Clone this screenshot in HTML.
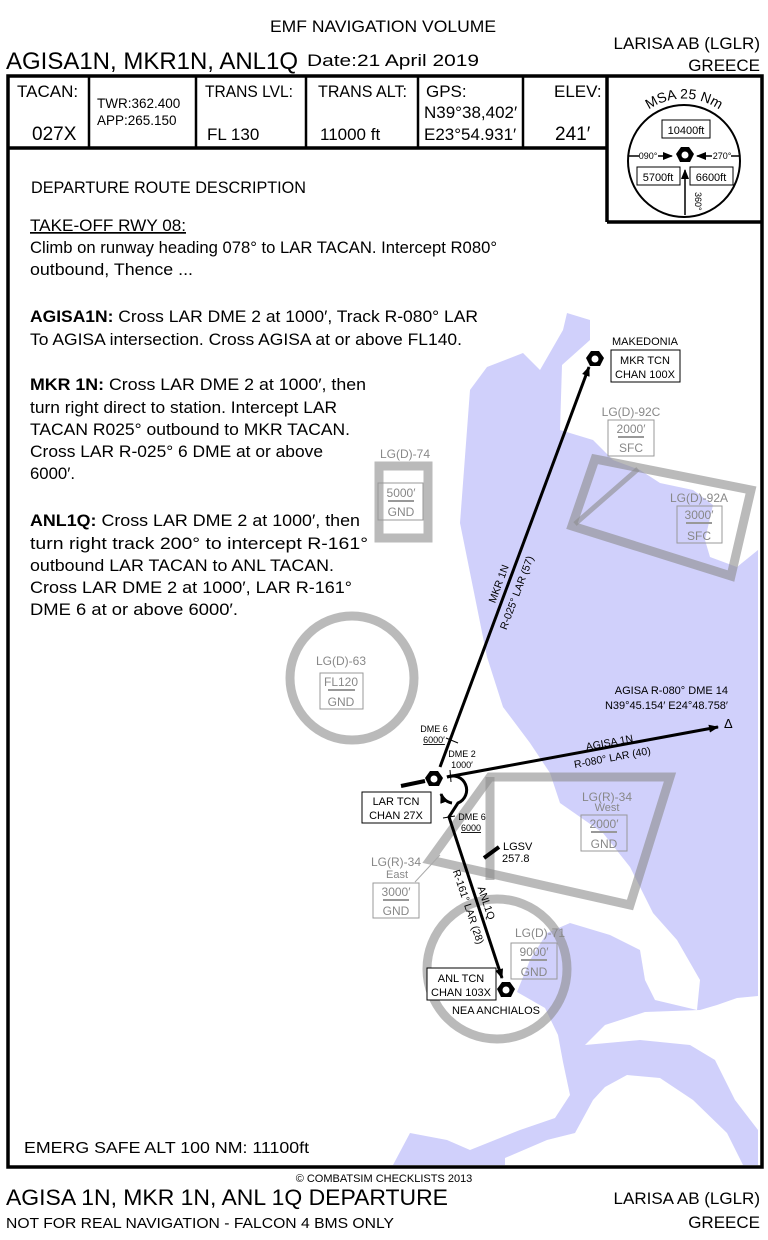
<!DOCTYPE html>
<html><head><meta charset="utf-8"><style>
html,body{margin:0;padding:0;background:#fff}
svg{display:block}
text{font-family:"Liberation Sans",sans-serif}
</style></head><body>
<svg width="768" height="1240" viewBox="0 0 768 1240" xmlns="http://www.w3.org/2000/svg">
<defs>
<marker id="ar" markerWidth="10" markerHeight="8" refX="9" refY="4" orient="auto" markerUnits="userSpaceOnUse"><path d="M0,0 L10,4 L0,8 z" fill="#000"/></marker>
<g id="tcn"><path d="M-4,-8 L4,-8 L9,-1 L5,7 L-5,7 L-9,-1 z" fill="#000"/><circle r="3.5" fill="#fff"/></g>
</defs>

<!-- water -->
<path fill="#d0d0fb" d="M567,313 L590,320 L590,340 L562,365 L560,430 L593,440 L613,460 L640,470 L660,483 L693,490 L713,505 L705,540 L710,557 L737,567 L758,550 L758,1165 L393,1165 L410,1133 L447,1140 L470,1150 L520,1130 L555,1118 L570,1095 L563,1062 L558,1035 L545,1008 L517,992 L530,960 L547,933 L570,923 L560,803 L550,773 L530,743 L503,707 L487,657 L460,523 L470,390 L487,367 L523,353 L540,370 L563,330 z"/>
<path fill="#fff" d="M560,803 L603,833 L630,867 L653,913 L677,940 L700,980 L697,1010 L655,1000 L645,980 L640,950 L610,935 L570,923 L560,860 z"/>
<path fill="#fff" d="M585,1045 L605,1025 L645,1012 L700,1010 L717,1005 L737,998 L758,996 L758,1130 L735,1100 L715,1060 L690,1045 L640,1040 z"/>
<path fill="#fff" d="M505,1165 L505,1158 L547,1140 L575,1133 L593,1100 L605,1087 L627,1075 L660,1078 L693,1100 L727,1133 L743,1165 z"/>

<!-- airspaces -->
<g fill="none" stroke="rgba(140,140,140,0.6)" stroke-width="9">
<rect x="379" y="466" width="49" height="72"/>
<polygon points="595,459 751,490 731,576 572,526"/>
<line x1="575" y1="524" x2="638" y2="469" stroke-width="5"/>
<circle cx="352" cy="678" r="62"/>
<polygon points="430,860 490,777 670,777 630,905"/>
<line x1="490" y1="777" x2="490" y2="880"/>
<circle cx="497" cy="969" r="70"/>
</g>
<line x1="415" y1="882" x2="440" y2="855" stroke="#aaa" stroke-width="1"/>

<g font-size="12" fill="#888" text-anchor="middle">
<text x="405" y="458">LG(D)-74</text>
<rect x="378" y="483" width="45" height="37" fill="none" stroke="#999"/>
<text x="401" y="497">5000′</text><line x1="388" y1="501" x2="414" y2="501" stroke="#999" stroke-width="2"/><text x="401" y="516">GND</text>
<text x="631" y="416">LG(D)-92C</text>
<rect x="608" y="420" width="46" height="36" fill="none" stroke="#999"/>
<text x="631" y="433">2000′</text><line x1="618" y1="437" x2="644" y2="437" stroke="#999" stroke-width="2"/><text x="631" y="452">SFC</text>
<text x="699" y="502">LG(D)-92A</text>
<rect x="677" y="506" width="45" height="37" fill="none" stroke="#999"/>
<text x="699" y="519">3000′</text><line x1="686" y1="523" x2="712" y2="523" stroke="#999" stroke-width="2"/><text x="699" y="540">SFC</text>
<text x="341" y="665">LG(D)-63</text>
<rect x="320" y="673" width="43" height="36" fill="none" stroke="#999"/>
<text x="341" y="686">FL120</text><line x1="328" y1="690" x2="355" y2="690" stroke="#999" stroke-width="2"/><text x="341" y="706">GND</text>
<text x="607" y="801">LG(R)-34</text><text x="607" y="811" font-size="11">West</text>
<rect x="581" y="815" width="46" height="36" fill="none" stroke="#999"/>
<text x="604" y="828">2000′</text><line x1="591" y1="832" x2="617" y2="832" stroke="#999" stroke-width="2"/><text x="604" y="848">GND</text>
<text x="396" y="866">LG(R)-34</text><text x="397" y="878" font-size="11">East</text>
<rect x="373" y="883" width="46" height="35" fill="none" stroke="#999"/>
<text x="396" y="896">3000′</text><line x1="383" y1="900" x2="409" y2="900" stroke="#999" stroke-width="2"/><text x="396" y="915">GND</text>
<text x="540" y="937">LG(D)-71</text>
<rect x="511" y="943" width="46" height="36" fill="none" stroke="#999"/>
<text x="534" y="956">9000′</text><line x1="521" y1="960" x2="547" y2="960" stroke="#999" stroke-width="2"/><text x="534" y="976">GND</text>
</g>

<!-- routes -->
<g stroke="#000" stroke-width="3" fill="none">
<line x1="440" y1="767" x2="589" y2="367" marker-end="url(#ar)"/>
<line x1="447" y1="777" x2="718" y2="727" marker-end="url(#ar)"/>
<path d="M447,777 A14,14 0 1 1 458,803 L449,817 L502,978" marker-end="url(#ar)"/>
<path d="M452,803 A14,14 0 0 1 441,794" marker-end="url(#ar)"/>
<line x1="401" y1="786" x2="425" y2="781" stroke-width="4"/>
<line x1="484" y1="858" x2="499" y2="847" stroke-width="4"/>
</g>
<g stroke="#000" stroke-width="1"><line x1="446" y1="738" x2="458" y2="743"/><line x1="450" y1="770" x2="451" y2="782"/><line x1="443" y1="818" x2="455" y2="816"/></g>
<use href="#tcn" x="595" y="359"/>
<use href="#tcn" x="434" y="779"/>
<use href="#tcn" x="506" y="990"/>

<g font-size="11" fill="#000">
<text x="645" y="345" text-anchor="middle">MAKEDONIA</text>
<rect x="611" y="350" width="69" height="32" fill="#fff" stroke="#000"/>
<text x="645" y="364" text-anchor="middle">MKR TCN</text><text x="645" y="378" text-anchor="middle">CHAN 100X</text>
<rect x="362" y="792" width="69" height="31" fill="#fff" stroke="#000"/>
<text x="396" y="805" text-anchor="middle">LAR TCN</text><text x="396" y="819" text-anchor="middle">CHAN 27X</text>
<rect x="427" y="968" width="69" height="32" fill="#fff" stroke="#000"/>
<text x="461" y="982" text-anchor="middle">ANL TCN</text><text x="461" y="996" text-anchor="middle">CHAN 103X</text>
<text x="496" y="1014" text-anchor="middle">NEA ANCHIALOS</text>
<text x="503" y="850">LGSV</text><text x="502" y="862">257.8</text>
<text x="728" y="694" text-anchor="end">AGISA R-080° DME 14</text>
<text x="728" y="709" text-anchor="end">N39°45.154′ E24°48.758′</text>
<text x="724" y="728" font-size="13" font-family="Liberation Serif">Δ</text>
</g>
<g font-size="9" fill="#000" text-anchor="middle">
<text x="434" y="732">DME 6</text><text x="434" y="743" text-decoration="underline">6000′</text>
<text x="462" y="757">DME 2</text><text x="462" y="768">1000′</text>
<text x="472" y="820">DME 6</text><text x="471" y="831" text-decoration="underline">6000</text>
<text font-size="10.5" transform="translate(502,585) rotate(-69.4)">MKR 1N</text>
<text font-size="10.5" transform="translate(520,594) rotate(-69.4)">R-025° LAR (57)</text>
<text font-size="10.5" transform="translate(610,746) rotate(-10.5)">AGISA 1N</text>
<text font-size="10.5" transform="translate(613,761) rotate(-10.5)">R-080° LAR (40)</text>
<text font-size="10.5" transform="translate(483,904) rotate(71.4)">ANL1Q</text>
<text font-size="10.5" transform="translate(465,908) rotate(71.4)">R-161° LAR (28)</text>
</g>

<!-- frame -->
<g stroke="#000" stroke-width="3.5" fill="none">
<rect x="8" y="76" width="754" height="1091"/>
<line x1="8" y1="148" x2="607" y2="148"/>
<line x1="607" y1="76" x2="607" y2="222"/>
<line x1="607" y1="222" x2="762" y2="222"/>
</g>
<g stroke="#000" stroke-width="2.5"><line x1="89" y1="76" x2="89" y2="148"/><line x1="196" y1="76" x2="196" y2="148"/><line x1="306" y1="76" x2="306" y2="148"/><line x1="418" y1="76" x2="418" y2="148"/><line x1="523" y1="76" x2="523" y2="148"/></g>

<!-- header -->
<text x="383" y="32" font-size="17" text-anchor="middle" textLength="226" lengthAdjust="spacingAndGlyphs">EMF NAVIGATION VOLUME</text>
<text x="6" y="69" font-size="24" textLength="292" lengthAdjust="spacingAndGlyphs">AGISA1N, MKR1N, ANL1Q</text>
<text x="307" y="66" font-size="17" textLength="172" lengthAdjust="spacingAndGlyphs">Date:21 April 2019</text>
<text x="760" y="49" font-size="17" text-anchor="end">LARISA AB (LGLR)</text>
<text x="760" y="71" font-size="17" text-anchor="end">GREECE</text>
<g font-size="17">
<text x="17" y="97">TACAN:</text><text x="32" y="140" font-size="19">027X</text>
<text x="97" y="108" font-size="13.5">TWR:362.400</text><text x="97" y="125" font-size="13.5">APP:265.150</text>
<text x="205" y="97" textLength="88" lengthAdjust="spacingAndGlyphs">TRANS LVL:</text><text x="207" y="140">FL 130</text>
<text x="318" y="97" textLength="89" lengthAdjust="spacingAndGlyphs">TRANS ALT:</text><text x="320" y="140">11000 ft</text>
<text x="426" y="97">GPS:</text><text x="424" y="118">N39°38,402′</text><text x="424" y="140">E23°54.931′</text>
<text x="554" y="97">ELEV:</text><text x="555" y="140" font-size="19">241′</text>
</g>

<!-- MSA -->
<circle cx="684" cy="161" r="56" fill="none" stroke="#000" stroke-width="2"/>
<path id="msaarc" d="M634,124 A62,62 0 0 1 734,124" fill="none"/>
<text font-size="14"><textPath href="#msaarc" startOffset="50%" text-anchor="middle">MSA 25 Nm</textPath></text>
<g font-size="11">
<rect x="662" y="120" width="48" height="18" fill="none" stroke="#000"/><text x="686" y="134" text-anchor="middle">10400ft</text>
<rect x="637" y="167" width="43" height="18" fill="none" stroke="#000"/><text x="658" y="181" text-anchor="middle">5700ft</text>
<rect x="690" y="167" width="43" height="18" fill="none" stroke="#000"/><text x="711" y="181" text-anchor="middle">6600ft</text>
<text x="648" y="159" font-size="9" text-anchor="middle">090°</text>
<text x="722" y="159" font-size="9" text-anchor="middle">270°</text>
<text font-size="9" transform="translate(695,192) rotate(90)">360°</text>
</g>
<g stroke="#000" stroke-width="1.5"><line x1="628" y1="156" x2="639" y2="156"/><line x1="658" y1="156" x2="672" y2="156" marker-end="url(#ar)"/><line x1="712" y1="156" x2="697" y2="156" marker-end="url(#ar)"/><line x1="731" y1="156" x2="740" y2="156"/><line x1="685" y1="215" x2="685" y2="170" marker-end="url(#ar)"/></g>
<use href="#tcn" x="685" y="155"/>

<!-- description -->
<g font-size="17">
<text x="31" y="193" textLength="275" lengthAdjust="spacingAndGlyphs">DEPARTURE ROUTE DESCRIPTION</text>
<text x="30" y="231" textLength="156" lengthAdjust="spacingAndGlyphs" text-decoration="underline">TAKE-OFF RWY 08:</text>
<text x="30" y="253" textLength="467" lengthAdjust="spacingAndGlyphs">Climb on runway heading 078° to LAR TACAN. Intercept R080°</text>
<text x="30" y="275" textLength="163" lengthAdjust="spacingAndGlyphs">outbound, Thence ...</text>
<text x="30" y="322" textLength="448" lengthAdjust="spacingAndGlyphs"><tspan font-weight="bold">AGISA1N:</tspan> Cross LAR DME 2 at 1000′, Track R-080° LAR</text>
<text x="30" y="345" textLength="432" lengthAdjust="spacingAndGlyphs">To AGISA intersection. Cross AGISA at or above FL140.</text>
<text x="30" y="390" textLength="336" lengthAdjust="spacingAndGlyphs"><tspan font-weight="bold">MKR 1N:</tspan> Cross LAR DME 2 at 1000′, then</text>
<text x="30" y="413" textLength="307" lengthAdjust="spacingAndGlyphs">turn right direct to station. Intercept LAR</text>
<text x="30" y="435" textLength="320" lengthAdjust="spacingAndGlyphs">TACAN R025° outbound to MKR TACAN.</text>
<text x="30" y="457" textLength="293" lengthAdjust="spacingAndGlyphs">Cross LAR R-025° 6 DME at or above</text>
<text x="30" y="479" textLength="45" lengthAdjust="spacingAndGlyphs">6000′.</text>
<text x="30" y="526" textLength="330" lengthAdjust="spacingAndGlyphs"><tspan font-weight="bold">ANL1Q:</tspan> Cross LAR DME 2 at 1000′, then</text>
<text x="30" y="549" textLength="338" lengthAdjust="spacingAndGlyphs">turn right track 200° to intercept R-161°</text>
<text x="30" y="571" textLength="304" lengthAdjust="spacingAndGlyphs">outbound LAR TACAN to ANL TACAN.</text>
<text x="30" y="593" textLength="322" lengthAdjust="spacingAndGlyphs">Cross LAR DME 2 at 1000′, LAR R-161°</text>
<text x="30" y="615" textLength="208" lengthAdjust="spacingAndGlyphs">DME 6 at or above 6000′.</text>
<text x="24" y="1153" font-size="16" textLength="285" lengthAdjust="spacingAndGlyphs">EMERG SAFE ALT 100 NM: 11100ft</text>
</g>

<!-- footer -->
<text x="384" y="1182" font-size="11" text-anchor="middle">© COMBATSIM CHECKLISTS 2013</text>
<text x="6" y="1205" font-size="22" textLength="442" lengthAdjust="spacingAndGlyphs">AGISA 1N, MKR 1N, ANL 1Q DEPARTURE</text>
<text x="6" y="1228" font-size="15" textLength="388" lengthAdjust="spacingAndGlyphs">NOT FOR REAL NAVIGATION - FALCON 4 BMS ONLY</text>
<text x="760" y="1204" font-size="17" text-anchor="end">LARISA AB (LGLR)</text>
<text x="760" y="1228" font-size="17" text-anchor="end">GREECE</text>
</svg>
</body></html>
